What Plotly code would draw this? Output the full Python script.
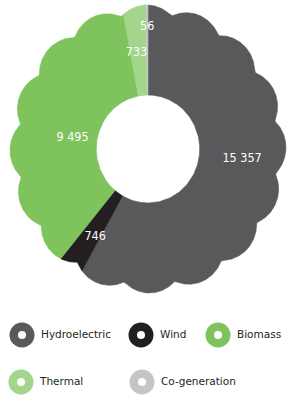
import numpy as np
import plotly.graph_objects as go

# ---------------- data ----------------
categories = ["Hydroelectric", "Wind", "Biomass", "Thermal", "Co-generation"]
values = [15357, 746, 9495, 733, 56]
value_labels = ["15 357", "746", "9 495", "733", "56"]

# ---------------- style ----------------
colors = ["#58595b", "#231f20", "#7ec35b", "#a3d58b", "#c4c5c7"]
label_angle_offset = [-9.0, -2.5, -6.6, -1.3, 0.0]   # degrees, label placement tweak
label_radius = [0.685, 0.72, 0.552, 0.672, 0.847]     # fraction of outer radius
HOLE = 0.375
N_LOBES = 16
LOBE_PHASE = 10.5
RHO, DIST = 0.25, 0.75

W, H = 287, 396
CX, CY = 148, 149        # centre of the donut in pixels (from top-left)
RX, RY = 138, 144        # pixel radii


def scallop(theta_deg):
    seg = 360.0 / N_LOBES
    phi = np.radians(((theta_deg - LOBE_PHASE) % seg) - seg / 2)
    return DIST * np.cos(phi) + np.sqrt(RHO ** 2 - (DIST * np.sin(phi)) ** 2)


fig = go.Figure()

total = float(sum(values))
cum = np.concatenate([[0.0], np.cumsum(values)]) / total * 360.0

for i, cat in enumerate(categories):
    a0, a1 = cum[i], cum[i + 1]
    n = max(3, int(np.ceil((a1 - a0) / 0.2)))
    th = np.linspace(a0, a1, n + 1)
    ro = scallop(th)
    th_in = th[::-1]
    xs = np.concatenate([ro * np.sin(np.radians(th)), HOLE * np.sin(np.radians(th_in))])
    ys = np.concatenate([ro * np.cos(np.radians(th)), HOLE * np.cos(np.radians(th_in))])
    xs = np.append(xs, xs[0])
    ys = np.append(ys, ys[0])
    fig.add_trace(go.Scatter(
        x=xs, y=ys, mode="lines", fill="toself", fillcolor=colors[i],
        line=dict(color=colors[i], width=0.6), name=cat, showlegend=False,
        hoverinfo="name", xaxis="x", yaxis="y"))

# value labels
lab_th = np.radians((cum[:-1] + cum[1:]) / 2 + np.array(label_angle_offset))
lab_r = np.array(label_radius)
fig.add_trace(go.Scatter(
    x=lab_r * np.sin(lab_th), y=lab_r * np.cos(lab_th), mode="text",
    text=value_labels, textposition="middle center",
    textfont=dict(color="white", size=12.5,
                  family="DejaVu Sans Condensed, DejaVu Sans, sans-serif"),
    showlegend=False, hoverinfo="skip", xaxis="x", yaxis="y"))

# custom legend (two rows)
leg_x = [22, 141, 218, 21, 142]
leg_y = [335, 335, 335, 382, 382]
fig.add_trace(go.Scatter(
    x=leg_x, y=leg_y, mode="markers",
    marker=dict(size=25, color=colors, line=dict(width=0)),
    showlegend=False, hoverinfo="skip", xaxis="x2", yaxis="y2"))
fig.add_trace(go.Scatter(
    x=leg_x, y=leg_y, mode="markers",
    marker=dict(size=8, color="white", line=dict(width=0)),
    showlegend=False, hoverinfo="skip", xaxis="x2", yaxis="y2"))
fig.add_trace(go.Scatter(
    x=[x + 19 for x in leg_x], y=leg_y, mode="text", text=categories,
    textposition="middle right",
    textfont=dict(color="#231f20", size=10.5, family="DejaVu Sans, sans-serif"),
    showlegend=False, hoverinfo="skip", xaxis="x2", yaxis="y2", cliponaxis=False))

fig.update_layout(
    width=W, height=H, margin=dict(l=0, r=0, t=0, b=0),
    paper_bgcolor="white", plot_bgcolor="rgba(0,0,0,0)",
    xaxis=dict(domain=[0, 1], range=[-CX / RX, (W - CX) / RX], visible=False, fixedrange=True),
    yaxis=dict(domain=[0, 1], range=[-(H - CY) / RY, CY / RY], visible=False, fixedrange=True),
    xaxis2=dict(domain=[0, 1], range=[0, W], visible=False, overlaying="x", fixedrange=True),
    yaxis2=dict(domain=[0, 1], range=[H, 0], visible=False, overlaying="y", fixedrange=True),
    showlegend=False,
)

fig.write_html(
    "out.html",
    config={"displayModeBar": False},
    post_script="document.body.style.margin='0';document.body.style.padding='0';"
                "document.documentElement.style.overflow='hidden';",
)
